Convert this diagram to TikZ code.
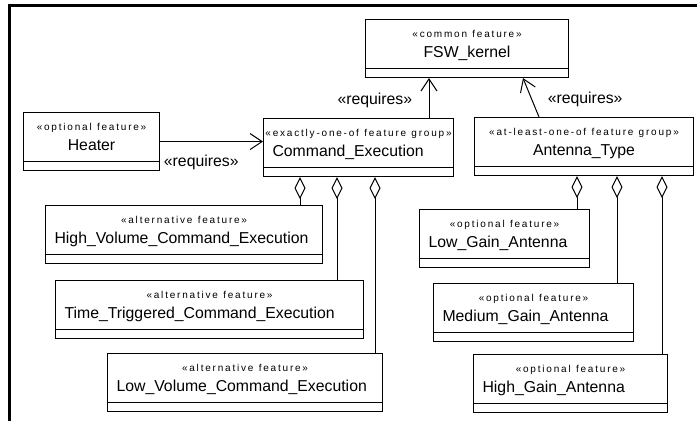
\documentclass[tikz,border=0pt]{standalone}
\usepackage{fontspec}
\setmainfont{Liberation Sans}
\newfontfamily\stereofont[LetterSpace=18]{Liberation Sans}
\usetikzlibrary{arrows.meta,positioning}
\setlength{\parindent}{0pt}
\newcommand{\featname}[2]{\makebox[\linewidth]{\stereofont\fontsize{10}{10}\selectfont «#1»}\\#2}
\tikzset{
  feature/.style={draw, line width=1.1pt, anchor=north west, inner xsep=9pt, inner ysep=0pt,
    text height=18pt, text depth=40pt, align=left, font=\fontsize{15.8}{20}\selectfont,
    path picture={\draw[line width=1.1pt] ([yshift=9pt]path picture bounding box.south west)
      -- ([yshift=9pt]path picture bounding box.south east);}},
  requires/.style={-{Straight Barb[length=12pt,width=16pt]}, line width=1pt},
  member/.style={{Diamond[open,length=22pt,width=11pt]}-, line width=1pt},
  reqlabel/.style={font=\fontsize{15.8}{20}\selectfont}
}
\begin{document}
\begin{tikzpicture}[x=1pt, y=-1pt]
    \useasboundingbox (0,0) rectangle (697,421);
    \draw[line width=3pt] (9,421)--(9,5)--(698,5);
    % features
    \node[feature, text width=185pt, align=center] (kernel) at (365,19) {\featname{common feature}{FSW\_kernel}};
    \node[feature, text width=118pt, align=center] (heater) at (23,112) {\featname{optional feature}{Heater}};
    \node[feature, text width=172pt] (cmd) at (263,118) {\featname{exactly-one-of feature group}{Command\_Execution}};
    \node[feature, text width=201pt, align=center] (antenna) at (474,117) {\featname{at-least-one-of feature group}{Antenna\_Type}};
    \node[feature, text width=259pt] (highvol) at (45,205) {\featname{alternative feature}{High\_Volume\_Command\_Execution}};
    \node[feature, text width=290pt] (timetrig) at (55,280) {\featname{alternative feature}{Time\_Triggered\_Command\_Execution}};
    \node[feature, text width=257pt] (lowvol) at (107,353) {\featname{alternative feature}{Low\_Volume\_Command\_Execution}};
    \node[feature, text width=152pt] (lowgain) at (419,209) {\featname{optional feature}{Low\_Gain\_Antenna}};
    \node[feature, text width=182pt] (medgain) at (433,283) {\featname{optional feature}{Medium\_Gain\_Antenna}};
    \node[feature, text width=176pt] (highgain) at (473,354) {\featname{optional feature}{High\_Gain\_Antenna}};
    % requires
    \draw[requires] (heater.east)--(heater.east -| cmd.west) node[pos=0, anchor=north west, yshift=-10pt, reqlabel] (reqheat) {«requires»};
    \draw[requires] ([xshift=166pt]cmd.north west)--([xshift=166pt]cmd.north west |- kernel.south) node[midway, left=13pt, yshift=-2pt, reqlabel] (reqcmd) {«requires»};
    \draw[requires] ([xshift=65pt]antenna.north west)--([xshift=158pt]kernel.south west) node[midway, right=13pt, yshift=-2pt, reqlabel] (reqant) {«requires»};
    % group members
    \draw[member] ([xshift=37pt]cmd.south west)--([xshift=37pt]cmd.south west |- highvol.north);
    \draw[member] ([xshift=74pt]cmd.south west)--([xshift=74pt]cmd.south west |- timetrig.north);
    \draw[member] ([xshift=112pt]cmd.south west)--([xshift=112pt]cmd.south west |- lowvol.north);
    \draw[member] ([xshift=103pt]antenna.south west)--([xshift=103pt]antenna.south west |- lowgain.north);
    \draw[member] ([xshift=143pt]antenna.south west)--([xshift=143pt]antenna.south west |- medgain.north);
    \draw[member] ([xshift=188pt]antenna.south west)--([xshift=188pt]antenna.south west |- highgain.north);
\end{tikzpicture}
\end{document}
